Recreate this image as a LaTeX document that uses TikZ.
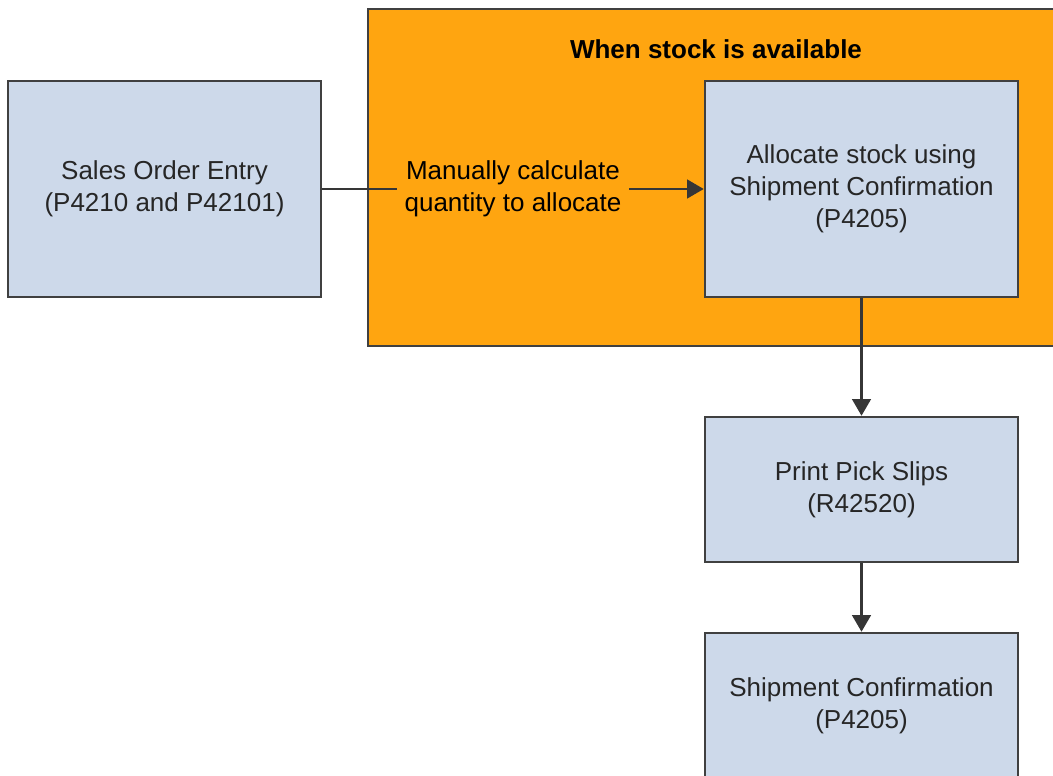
\documentclass[tikz,border=0pt]{standalone}
\usepackage{fontspec}
\setmainfont{Liberation Sans}
\usetikzlibrary{arrows.meta}
\definecolor{frameorange}{RGB}{255,165,16}
\definecolor{boxblue}{RGB}{205,217,234}
\definecolor{edgegray}{RGB}{64,64,64}
\tikzset{
  px/.style={x=0.75pt,y=-0.75pt},
  procbox/.style={draw=edgegray, line width=1.9pt, fill=boxblue, align=center,
    minimum width=234.75pt, inner sep=0pt, font=\fontsize{19.5}{24}\selectfont, text=black!85},
  flow/.style={draw=edgegray!85!black, line width=1.9pt, -{Triangle[length=12.5pt,width=14pt]}},
}
\begin{document}
\begin{tikzpicture}[px]
\useasboundingbox (0,0) rectangle (1053,775);
\begin{scope}
\clip (0,0) rectangle (1053,775);
\draw[draw=edgegray, line width=1.9pt, fill=frameorange] (368,9) rectangle (1080,346);
\node[font=\bfseries\fontsize{19.5}{24}\selectfont] (title) at (716,49) {When stock is available};
\node[procbox, minimum height=162pt] (soe) at (164.5,189) {Sales Order Entry\\(P4210 and P42101)};
\node[procbox, minimum height=162pt] (alloc) at (861.5,189) {Allocate stock using\\Shipment Confirmation\\(P4205)};
\node[procbox, minimum height=108.75pt] (pick) at (861.5,489.5) {Print Pick Slips\\(R42520)};
\node[procbox, minimum height=108.75pt] (ship) at (861.5,705.5) {Shipment Confirmation\\(P4205)};
\draw[flow] (soe) -- node[fill=frameorange, inner sep=6pt, align=center, font=\fontsize{19.5}{24}\selectfont] (lbl) {Manually calculate\\quantity to allocate} (alloc);
\draw[flow] (alloc) -- (pick);
\draw[flow] (pick) -- (ship);
\end{scope}
\end{tikzpicture}
\end{document}
